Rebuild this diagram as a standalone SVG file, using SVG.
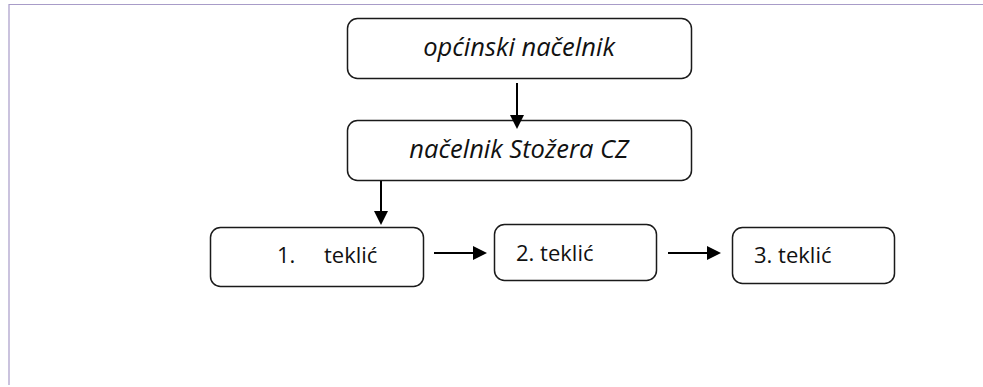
<svg xmlns="http://www.w3.org/2000/svg" width="983" height="387" viewBox="0 0 983 387">
<defs>
<style>
.box{fill:#fff;stroke:#1a1a1a;stroke-width:1.5}
.t{font-family:"Open Sans","Liberation Sans",sans-serif;font-size:22px;fill:#111}
.it{font-style:italic;font-size:25.5px}
.c{stroke:#000;stroke-width:2;fill:none}
.h{fill:#000}
</style>
</defs>
<rect width="983" height="387" fill="#fff"/>
<path d="M9,385 V4.5 H983" fill="none" stroke="#a89cc8" stroke-width="1.2"/>
<g id="n1"><rect class="box" x="347.5" y="18.5" width="344" height="60" rx="10"/><text class="t it" x="519" y="56" text-anchor="middle">općinski načelnik</text></g>
<g id="n2"><rect class="box" x="347.5" y="120.5" width="344" height="60" rx="10"/><text class="t it" x="519" y="158" text-anchor="middle">načelnik Stožera CZ</text></g>
<g id="n3"><rect class="box" x="210.5" y="227.5" width="213" height="59" rx="10"/><text class="t" x="277" y="263">1.</text><text class="t" x="324" y="263">teklić</text></g>
<g id="n4"><rect class="box" x="494.5" y="224.5" width="162" height="56" rx="10"/><text class="t" x="516" y="261">2. teklić</text></g>
<g id="n5"><rect class="box" x="732.5" y="227.5" width="162" height="56" rx="10"/><text class="t" x="754" y="263">3. teklić</text></g>
<g id="connectors">
<line class="c" x1="517" y1="83" x2="517" y2="116"/>
<path class="h" d="M510,115 L517,129 L524,115 z"/>
<line class="c" x1="381" y1="181" x2="381" y2="212"/>
<path class="h" d="M374,211 L381,225 L388,211 z"/>
<line class="c" x1="434" y1="253" x2="474" y2="253"/>
<path class="h" d="M473,246 L487,253 L473,260 z"/>
<line class="c" x1="668" y1="253" x2="708" y2="253"/>
<path class="h" d="M707,246 L721,253 L707,260 z"/>
</g>
</svg>
